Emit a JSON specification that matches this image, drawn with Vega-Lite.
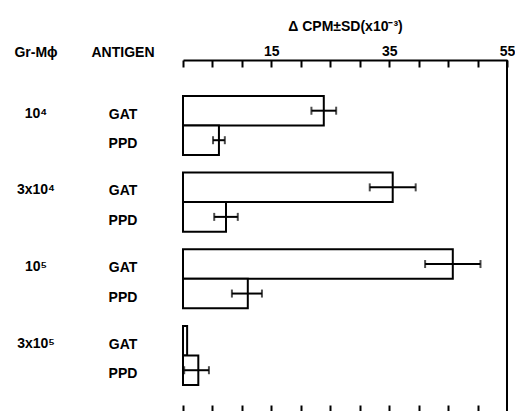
{
  "$schema": "https://vega.github.io/schema/vega-lite/v6.json",
  "background": "white",
  "padding": {"left": 0, "top": 19, "right": 0, "bottom": 0},
  "spacing": 0,
  "config": {
    "view": {"stroke": null},
    "font": "Liberation Sans",
    "concat": {"spacing": 0}
  },
  "data": {
    "values": [
      {"group": "10⁴", "antigen": "GAT", "value": 23.9, "low": 21.8, "high": 26.0},
      {"group": "10⁴", "antigen": "PPD", "value": 6.1, "low": 5.1, "high": 7.1},
      {"group": "3x10⁴", "antigen": "GAT", "value": 35.6, "low": 31.7, "high": 39.5},
      {"group": "3x10⁴", "antigen": "PPD", "value": 7.3, "low": 5.3, "high": 9.3},
      {"group": "10⁵", "antigen": "GAT", "value": 45.8, "low": 41.1, "high": 50.5},
      {"group": "10⁵", "antigen": "PPD", "value": 11.0, "low": 8.3, "high": 13.4},
      {"group": "3x10⁵", "antigen": "GAT", "value": 0.7, "low": null, "high": null},
      {"group": "3x10⁵", "antigen": "PPD", "value": 2.6, "low": 0.2, "high": 4.4}
    ]
  },
  "hconcat": [
    {
      "width": 72,
      "height": 351,
      "title": {"text": "Gr-Mϕ", "fontSize": 14, "fontWeight": "bold", "font": "Liberation Sans", "baseline": "alphabetic", "offset": 3, "dy": 14, "anchor": "middle", "color": "black"},
      "transform": [{"filter": "datum.antigen === 'GAT'"}],
      "mark": {"type": "text", "fontSize": 14, "fontWeight": "bold", "font": "Liberation Sans", "baseline": "middle", "dy": 3, "color": "black"},
      "encoding": {
        "y": {"field": "group", "type": "nominal", "sort": ["10⁴", "3x10⁴", "10⁵", "3x10⁵"], "axis": null,
              "scale": {"paddingInner": 0.23, "paddingOuter": 0.404, "align": 0.58}},
        "yOffset": {"field": "antigen", "type": "nominal", "sort": ["GAT", "PPD"], "scale": {"paddingInner": 0, "paddingOuter": 0}},
        "text": {"field": "group"}
      }
    },
    {
      "width": 110,
      "height": 351,
      "title": {"text": "ANTIGEN", "fontSize": 14, "fontWeight": "bold", "font": "Liberation Sans", "baseline": "alphabetic", "offset": 3, "dy": 14, "anchor": "middle", "dx": -4, "color": "black"},
      "mark": {"type": "text", "fontSize": 14, "fontWeight": "bold", "font": "Liberation Sans", "baseline": "middle", "dy": 4, "dx": -4, "color": "black"},
      "encoding": {
        "y": {"field": "group", "type": "nominal", "sort": ["10⁴", "3x10⁴", "10⁵", "3x10⁵"], "axis": null,
              "scale": {"paddingInner": 0.23, "paddingOuter": 0.404, "align": 0.58}},
        "yOffset": {"field": "antigen", "type": "nominal", "sort": ["GAT", "PPD"], "scale": {"paddingInner": 0, "paddingOuter": 0}},
        "text": {"field": "antigen"}
      }
    },
    {
      "width": 324,
      "height": 351,
      "resolve": {"axis": {"x": "independent"}},
      "encoding": {
        "y": {"field": "group", "type": "nominal", "sort": ["10⁴", "3x10⁴", "10⁵", "3x10⁵"], "axis": null,
              "scale": {"paddingInner": 0.23, "paddingOuter": 0.404, "align": 0.58}},
        "yOffset": {"field": "antigen", "type": "nominal", "sort": ["GAT", "PPD"], "scale": {"paddingInner": 0, "paddingOuter": 0}}
      },
      "layer": [
        {
          "mark": {"type": "bar", "fill": "white", "stroke": "black", "strokeWidth": 2},
          "encoding": {
            "x": {"field": "value", "type": "quantitative",
                  "scale": {"domain": [0, 55], "nice": false, "zero": true},
                  "axis": {"orient": "top", "values": [0, 5, 10, 15, 20, 25, 30, 35, 40, 45, 50, 55],
                           "labelExpr": "(datum.value == 15 || datum.value == 35 || datum.value == 55) ? datum.label : ''",
                           "grid": false, "domain": true, "domainColor": "black", "domainWidth": 2,
                           "ticks": true, "tickSize": -7, "tickWidth": 2, "tickColor": "black",
                           "labelFont": "Liberation Sans", "labelFontSize": 14, "labelFontWeight": "bold", "labelColor": "black",
                           "labelPadding": 9, "labelFlush": false, "labelOverlap": false,
                           "title": "Δ CPM±SD(x10⁻³)", "titleFont": "Liberation Sans", "titleFontSize": 14, "titleFontWeight": "bold",
                           "titleColor": "black", "titlePadding": 11}}
          }
        },
        {
          "transform": [{"filter": "datum.low != null"}],
          "mark": {"type": "rule", "color": "black", "strokeWidth": 2},
          "encoding": {
            "x": {"field": "low", "type": "quantitative", "scale": {"domain": [0, 55], "nice": false}, "axis": null},
            "x2": {"field": "high"}
          }
        },
        {
          "transform": [{"filter": "datum.low != null"}],
          "mark": {"type": "tick", "color": "black", "orient": "vertical", "size": 8, "thickness": 2},
          "encoding": {
            "x": {"field": "low", "type": "quantitative", "scale": {"domain": [0, 55], "nice": false}, "axis": null}
          }
        },
        {
          "transform": [{"filter": "datum.low != null"}],
          "mark": {"type": "tick", "color": "black", "orient": "vertical", "size": 8, "thickness": 2},
          "encoding": {
            "x": {"field": "high", "type": "quantitative", "scale": {"domain": [0, 55], "nice": false}, "axis": null}
          }
        },
        {
          "data": {"values": [{"edge": 55}]},
          "mark": {"type": "rule", "color": "black", "strokeWidth": 2},
          "encoding": {
            "x": {"field": "edge", "type": "quantitative", "scale": {"domain": [0, 55], "nice": false},
                  "axis": {"orient": "bottom", "values": [0, 5, 10, 15, 20, 25, 30, 35, 40, 45, 50],
                           "domain": false, "labels": false, "grid": false, "title": null,
                           "ticks": true, "tickSize": -6, "tickWidth": 2, "tickColor": "black"}},
            "y": null,
            "yOffset": null
          }
        }
      ]
    }
  ]
}
